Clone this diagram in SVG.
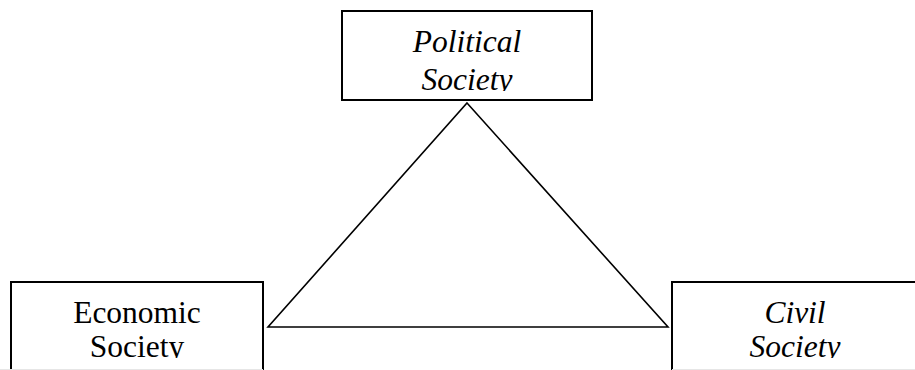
<svg xmlns="http://www.w3.org/2000/svg" width="915" height="370" viewBox="0 0 915 370">
<style>
.box{fill:#fff;stroke:#000;stroke-width:2}
.t{font-family:"Liberation Serif","Times New Roman",serif;font-size:31.5px;fill:#000;text-anchor:middle}
.i{font-style:italic}
.edge{fill:none;stroke:#000;stroke-width:1.6;stroke-linejoin:miter}
</style>
<defs>
<clipPath id="cTop"><rect x="343" y="12" width="248" height="79"/></clipPath>
<clipPath id="cLeft"><rect x="12" y="283" width="250" height="75"/></clipPath>
<clipPath id="cRight"><rect x="673" y="283" width="242" height="75"/></clipPath>
</defs>
<rect width="915" height="370" fill="#fff"/>
<g id="connectors">
<path class="edge" d="M467,103 L668,327 L268,327 Z"/>
</g>
<g id="political">
<rect class="box" x="342" y="11" width="250" height="89"/>
<g clip-path="url(#cTop)">
<text class="t i" x="467" y="52">Political</text>
<text class="t i" x="467" y="90">Society</text>
</g>
</g>
<g id="economic">
<rect class="box" x="11" y="282" width="252" height="100"/>
<g clip-path="url(#cLeft)">
<text class="t" x="137" y="323">Economic</text>
<text class="t" x="137" y="357">Society</text>
</g>
</g>
<g id="civil">
<rect class="box" x="672" y="282" width="260" height="100"/>
<g clip-path="url(#cRight)">
<text class="t i" x="795" y="323">Civil</text>
<text class="t i" x="795" y="357">Society</text>
</g>
</g>
<path d="M0,369.5H263M672,369.5H915" stroke="#e6e6e6" stroke-width="1"/>
</svg>
